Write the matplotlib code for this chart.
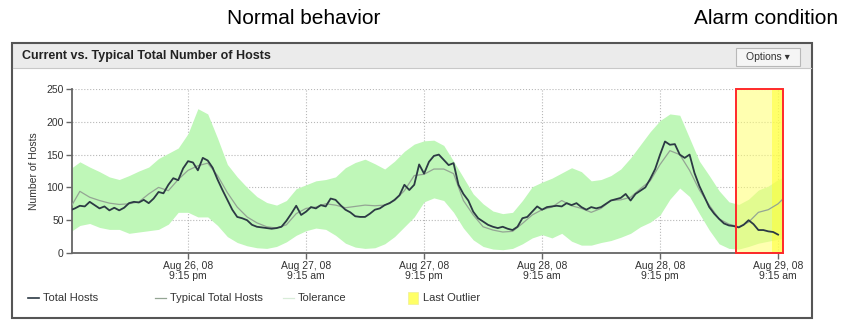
import matplotlib
matplotlib.use('Agg')
import numpy as np
from matplotlib import pyplot as plt
from matplotlib.patches import Rectangle
from matplotlib.lines import Line2D

plt.rcParams['font.family'] = ['Liberation Sans', 'DejaVu Sans']

# hours counted from Aug 26, 08 9:15 am
# total hosts, read every half hour
total_hosts = [65, 68, 72, 71, 78, 73, 68, 71, 65, 69, 65, 69, 76, 78, 77, 81, 76, 83,
               93, 91, 104, 114, 111, 129, 140, 138, 126, 145, 141, 130, 112, 96, 81, 66,
               55, 53, 50, 43, 40, 39, 38, 37, 38, 40, 49, 60, 72, 58, 63, 70, 68, 73,
               71, 83, 81, 73, 66, 62, 56, 55, 55, 60, 66, 68, 73, 76, 81, 88, 104, 96,
               104, 135, 121, 139, 148, 150, 142, 134, 137, 104, 90, 80, 63, 53, 48, 43,
               40, 38, 40, 37, 35, 40, 53, 55, 63, 71, 66, 70, 71, 72, 71, 76, 73, 76,
               70, 66, 70, 68, 70, 75, 80, 82, 84, 90, 80, 90, 95, 100, 113, 128, 150, 170,
               165, 166, 150, 145, 150, 122, 102, 86, 70, 60, 52, 45, 42, 41, 39, 43,
               50, 44, 35, 35, 33, 32, 28]

# typical total hosts and tolerance band, read every hour
typical_hosts = [68, 94, 85, 80, 76, 74, 75, 78, 90, 100, 95, 112, 126, 133, 137, 118, 92,
                 70, 55, 46, 40, 38, 43, 60, 68, 70, 75, 73, 69, 71, 73, 72, 73, 80, 95,
                 118, 120, 128, 128, 121, 80, 58, 40, 35, 32, 33, 45, 58, 66, 70, 80, 72,
                 68, 62, 68, 80, 81, 85, 98, 110, 135, 156, 150, 126, 96, 73, 52, 44, 40,
                 47, 62, 66, 75, 90]
tol_high = [128, 139, 131, 124, 116, 112, 118, 125, 131, 144, 152, 160, 182, 220, 212,
            175, 135, 116, 100, 86, 77, 73, 80, 98, 104, 110, 112, 116, 130, 138, 143,
            136, 128, 140, 155, 166, 171, 172, 164, 140, 115, 90, 75, 64, 60, 62, 80,
            101, 108, 114, 122, 130, 124, 110, 112, 118, 128, 145, 165, 185, 202, 212,
            210, 175, 140, 118, 95, 78, 74, 82, 96, 102, 112, 118]
tol_low = [32, 42, 45, 39, 36, 36, 30, 32, 34, 36, 44, 62, 62, 55, 55, 42, 25, 16, 11, 8,
           7, 10, 17, 27, 34, 38, 36, 27, 15, 9, 7, 8, 14, 25, 40, 55, 78, 84, 80, 62,
           38, 20, 10, 6, 5, 7, 14, 23, 28, 23, 30, 18, 12, 12, 16, 19, 24, 30, 40, 47,
           58, 82, 99, 86, 60, 35, 14, 7, 6, 10, 15, 18, 21, 23]

tick_hours = [12, 24, 36, 48, 60, 72]
tick_labels = ['Aug 26, 08\n9:15 pm', 'Aug 27, 08\n9:15 am', 'Aug 27, 08\n9:15 pm',
               'Aug 28, 08\n9:15 am', 'Aug 28, 08\n9:15 pm', 'Aug 29, 08\n9:15 am']
outlier_start, outlier_end = 67.7, 72.5

W, H = 865, 334
fig = plt.figure(figsize=(W / 100, H / 100), dpi=100)

def fx(x):
    return x / W

def fy(y):
    return 1 - y / H

# panel frame + header
fig.patches.append(Rectangle((fx(13), fy(68)), fx(811) - fx(13), fy(44) - fy(68),
                             transform=fig.transFigure, fc='#ebebeb', ec='none'))
fig.lines.append(Line2D([fx(13), fx(811)], [fy(68), fy(68)], transform=fig.transFigure,
                        color='#c8c8c8', lw=0.8))
fig.patches.append(Rectangle((fx(12), fy(318)), fx(812) - fx(12), fy(43) - fy(318),
                             transform=fig.transFigure, fill=False, ec='#555555', lw=1.5))
fig.patches.append(Rectangle((fx(736), fy(66)), fx(800) - fx(736), fy(48) - fy(66),
                             transform=fig.transFigure, fc='#f5f5f5', ec='#b8b8b8', lw=0.8))
fig.text(fx(22), fy(56), 'Current vs. Typical Total Number of Hosts', fontsize=9,
         fontweight='bold', color='#222222', va='center')
fig.text(fx(768), fy(57), 'Options \u25be', fontsize=7.5, color='#333333',
         ha='center', va='center')

fig.text(fx(304), fy(18), 'Normal behavior', fontsize=15, ha='center', va='center')
fig.text(fx(766), fy(18), 'Alarm condition', fontsize=15, ha='center', va='center')

ax = fig.add_axes([fx(72), fy(253), fx(783) - fx(72), fy(89) - fy(253)])

hours = np.arange(len(tol_high))
half_hours = np.arange(len(total_hosts)) * 0.5

ax.fill_between(hours, tol_low, tol_high, color='#bff7b8', lw=0, zorder=1)
ax.axvspan(outlier_start, outlier_end, color='#ffff70', alpha=0.55, lw=0, zorder=2)
ax.axvspan(71.4, outlier_end, color='#ffff30', alpha=0.55, lw=0, zorder=2)
ax.plot(hours, typical_hosts, color='#94a594', lw=0.9, zorder=3)
ax.plot(half_hours, total_hosts, color='#2c3a44', lw=1.3, zorder=4)
ax.add_patch(Rectangle((outlier_start, 0), outlier_end - outlier_start, 250, fill=False,
                       ec='#ff2a2a', lw=1.4, zorder=5, clip_on=False))

ax.set_xlim(0.2, 72.5)
ax.set_ylim(0, 250)
ax.set_xticks(tick_hours)
ax.set_xticklabels(tick_labels, fontsize=7.5, color='#333333', linespacing=1.0)
ax.set_yticks(range(0, 251, 50))
ax.tick_params(axis='y', labelsize=7.5, labelcolor='#333333')
ax.tick_params(length=4, width=1, color='#666666', direction='out', pad=2)
ax.set_ylabel('Number of Hosts', fontsize=7.5, color='#333333', labelpad=5)
for side in ['top', 'right']:
    ax.spines[side].set_visible(False)
for side in ['left', 'bottom']:
    ax.spines[side].set_color('#666666')
    ax.spines[side].set_linewidth(1.3)
ax.grid(True, ls=':', color='#b8b8b8', lw=0.8, zorder=0)
ax.set_axisbelow(True)

# legend row
def legend_line(x0, color, label, lw=1.2):
    fig.lines.append(Line2D([fx(x0), fx(x0 + 11)], [fy(298), fy(298)],
                            transform=fig.transFigure, color=color, lw=lw))
    fig.text(fx(x0 + 15), fy(298), label, fontsize=8, color='#333333', va='center')

legend_line(28, '#2c3a44', 'Total Hosts')
legend_line(155, '#94a594', 'Typical Total Hosts', lw=0.9)
legend_line(283, '#d8ecd8', 'Tolerance', lw=0.9)
fig.patches.append(Rectangle((fx(408), fy(304)), fx(418) - fx(408), fy(292) - fy(304),
                             transform=fig.transFigure, fc='#ffff66', ec='#eeee99', lw=0.5))
fig.text(fx(423), fy(298), 'Last Outlier', fontsize=8, color='#333333', va='center')

fig.savefig('out.png', dpi=100)
